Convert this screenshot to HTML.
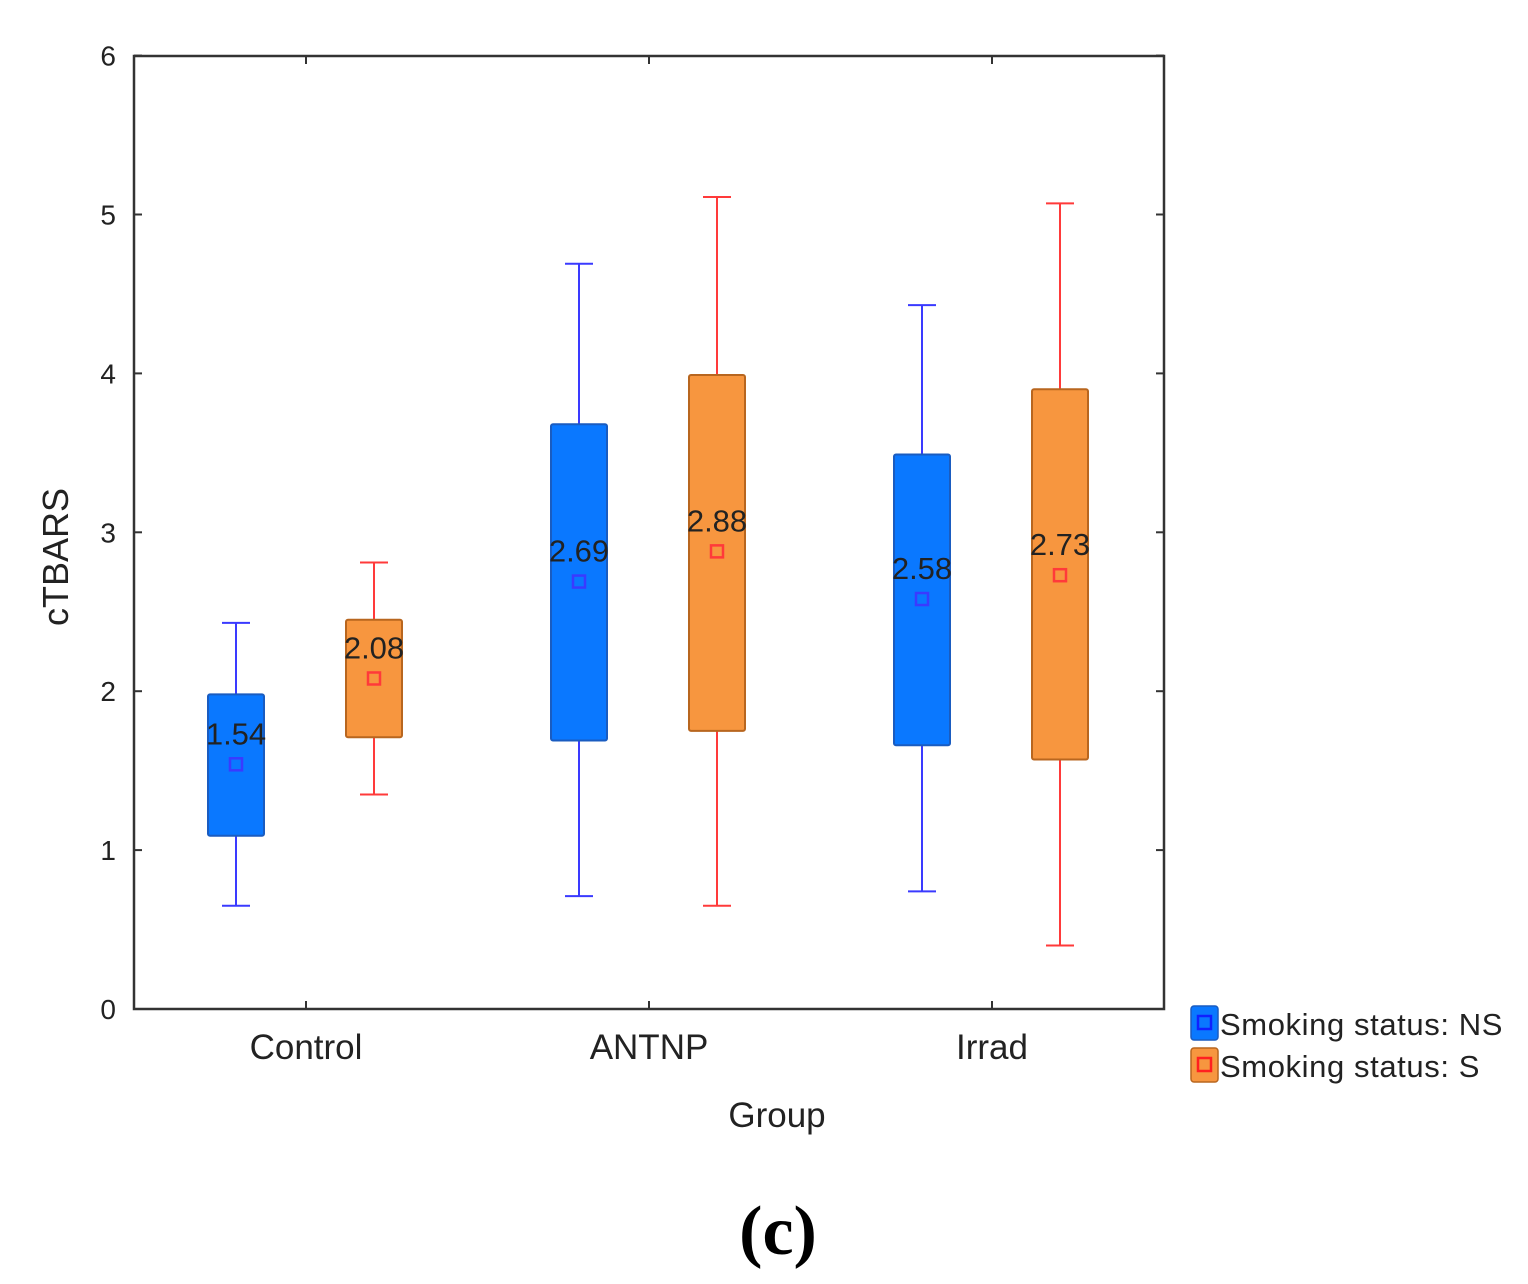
<!DOCTYPE html>
<html><head><meta charset="utf-8"><style>body{margin:0;background:#fff}svg{display:block}</style></head>
<body>
<svg id="chart" width="1528" height="1284" xmlns="http://www.w3.org/2000/svg" font-family="Liberation Sans, sans-serif">
<rect x="134" y="56" width="1030" height="953" fill="#fff" stroke="#333" stroke-width="2.5"/>
<g id="yticks"></g><g id="xticks"></g><g id="boxes"></g>
<text transform="translate(68,557) rotate(-90)" text-anchor="middle" font-size="36" fill="#222">cTBARS</text>
<text x="777" y="1127" text-anchor="middle" font-size="35" fill="#222">Group</text>
<g>
<rect x="1191" y="1006" width="27" height="34" rx="3" fill="#0a78ff" stroke="#1a5cc0" stroke-width="1.5"/>
<rect x="1198" y="1016" width="13" height="13" fill="none" stroke="#1020ff" stroke-width="2.5"/>
<text x="1220" y="1035" font-size="31" letter-spacing="0.6" fill="#222">Smoking status: NS</text>
<rect x="1191" y="1048" width="27" height="34" rx="3" fill="#f7963f" stroke="#b8661f" stroke-width="1.5"/>
<rect x="1198" y="1058" width="13" height="13" fill="none" stroke="#ff2020" stroke-width="2.5"/>
<text x="1220" y="1077" font-size="31" letter-spacing="0.6" fill="#222">Smoking status: S</text>
</g>
<text x="778" y="1254" text-anchor="middle" font-family="Liberation Serif, serif" font-weight="bold" font-size="70" fill="#000">(c)</text>
</svg>
<script>
const categories=["Control","ANTNP","Irrad"];
const yTicks=[0,1,2,3,4,5,6];
const nsMin=[0.65,0.71,0.74], nsQ1=[1.09,1.69,1.66], nsQ3=[1.98,3.68,3.49], nsMax=[2.43,4.69,4.43], nsMean=[1.54,2.69,2.58];
const sMin=[1.35,0.65,0.40], sQ1=[1.71,1.75,1.57], sQ3=[2.45,3.99,3.90], sMax=[2.81,5.11,5.07], sMean=[2.08,2.88,2.73];
const ns="http://www.w3.org/2000/svg";
const y=v=>1009-v*158.9;
const x=i=>306+i*343;
function mk(p,t,a){const e=document.createElementNS(ns,t);for(const k in a)e.setAttribute(k,a[k]);p.appendChild(e);return e;}
const yt=document.getElementById('yticks');
yTicks.forEach(v=>{
 const l=mk(yt,'line',{x1:134,x2:142,y1:y(v),y2:y(v),stroke:'#333','stroke-width':2});
 
 
 mk(yt,'line',{x1:1156,x2:1164,y1:y(v),y2:y(v),stroke:'#333','stroke-width':2});
 const t=mk(yt,'text',{x:116,y:y(v)+10,'text-anchor':'end','font-size':28,fill:'#222'});
 t.textContent=v;
 
 
});
const xt=document.getElementById('xticks');
categories.forEach((c,i)=>{
 mk(xt,'line',{x1:x(i),x2:x(i),y1:1009,y2:1001,stroke:'#333','stroke-width':2});
 mk(xt,'line',{x1:x(i),x2:x(i),y1:56,y2:64,stroke:'#333','stroke-width':2});
 const t=mk(xt,'text',{x:x(i),y:1059,'text-anchor':'middle','font-size':35,fill:'#222'});
 t.textContent=c;
 
 
});
const bx=document.getElementById('boxes');
function box(cx,mn,q1,q3,mx,mean,fill,edge,wc,name){
 const g=mk(bx,'g',{});
 
 
 mk(g,'line',{x1:cx,x2:cx,y1:y(mn),y2:y(mx),stroke:wc,'stroke-width':2});
 mk(g,'line',{x1:cx-14,x2:cx+14,y1:y(mn),y2:y(mn),stroke:wc,'stroke-width':2});
 mk(g,'line',{x1:cx-14,x2:cx+14,y1:y(mx),y2:y(mx),stroke:wc,'stroke-width':2});
 mk(g,'rect',{x:cx-28,y:y(q3),width:56,height:y(q1)-y(q3),rx:2,fill:fill,stroke:edge,'stroke-width':2});
 mk(g,'rect',{x:cx-6,y:y(mean)-6,width:12,height:12,fill:'none',stroke:wc,'stroke-width':2.5});
 const t=mk(g,'text',{x:cx,y:y(mean)-20,'text-anchor':'middle','font-size':31,fill:'#222'});
 t.textContent=mean.toFixed(2);
}
categories.forEach((c,i)=>{
 box(x(i)-70,nsMin[i],nsQ1[i],nsQ3[i],nsMax[i],nsMean[i],'#0a78ff','#1a5cc0','#3a3aff','box-ns-'+c.toLowerCase());
 box(x(i)+68,sMin[i],sQ1[i],sQ3[i],sMax[i],sMean[i],'#f7963f','#b8661f','#ff3a3a','box-s-'+c.toLowerCase());
});
</script>
</body></html>
